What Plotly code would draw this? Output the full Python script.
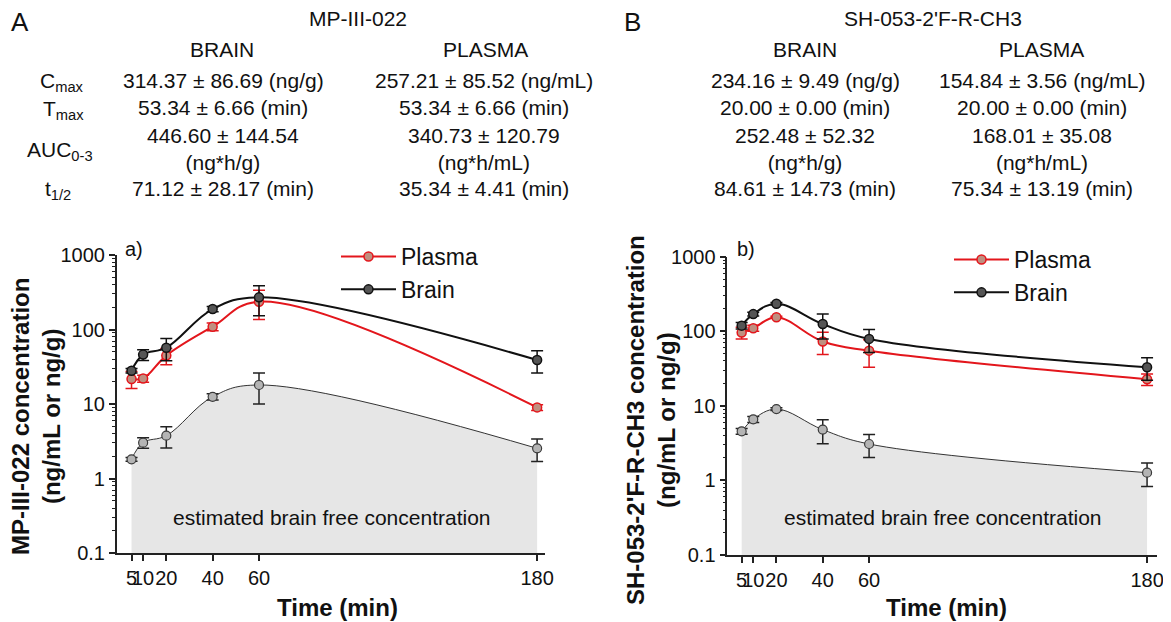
import plotly.graph_objects as go
import numpy as np

# ---------------- data ----------------
time_min = [5, 10, 20, 40, 60, 180]

# MP-III-022
a_plasma = [21.7, 22.0, 44.6, 109, 236, 9.0]
a_plasma_err = [5.5, 2.4, 11, 13, 100, 0.8]
a_brain = [28, 46, 57, 188, 270, 39]
a_brain_err = [2, 7.5, 19, 15, 117, 13]
a_free = [1.81, 3.03, 3.76, 12.5, 18.0, 2.54]
a_free_err = [0.1, 0.48, 1.2, 1.2, 8.0, 0.85]

# SH-053-2'F-R-CH3
b_plasma = [96, 110, 154, 73, 55, 22.7]
b_plasma_err = [17, 10, 5, 24, 22, 4]
b_brain = [119, 170, 234, 125, 79, 33]
b_brain_err = [12, 10, 9, 46, 27, 11]
b_free = [4.55, 6.6, 9.05, 4.8, 3.08, 1.27]
b_free_err = [0.4, 0.6, 0.4, 1.7, 1.05, 0.44]

y_ticks = [0.1, 1, 10, 100, 1000]
y_ticktext = ["0.1", "1", "10", "100", "1000"]
x_ticks = [5, 10, 20, 40, 60, 180]
x_ticktext = ["5", "10", "20", "40", "60", "180"]

table_rows = ["C<sub>max</sub>", "T<sub>max</sub>", "AUC<sub>0-3</sub>", "t<sub>1/2</sub>"]
a_brain_tab = ["314.37 ± 86.69 (ng/g)", "53.34 ± 6.66 (min)", "446.60 ± 144.54<br>(ng*h/g)", "71.12 ± 28.17 (min)"]
a_plasma_tab = ["257.21 ± 85.52 (ng/mL)", "53.34 ± 6.66 (min)", "340.73 ± 120.79<br>(ng*h/mL)", "35.34 ± 4.41 (min)"]
b_brain_tab = ["234.16 ± 9.49 (ng/g)", "20.00 ± 0.00 (min)", "252.48 ± 52.32<br>(ng*h/g)", "84.61 ± 14.73 (min)"]
b_plasma_tab = ["154.84 ± 3.56 (ng/mL)", "20.00 ± 0.00 (min)", "168.01 ± 35.08<br>(ng*h/mL)", "75.34 ± 13.19 (min)"]

# ---------------- layout helpers ----------------
VIEW_W, VIEW_H = 1171, 622
OFF = 8  # default page body margin
W, H = VIEW_W - OFF, VIEW_H - OFF
FONT = "Liberation Sans, Arial, sans-serif"


def px(x):
    return (x - OFF) / W


def py(y):
    return 1 - (y - OFF) / H


RED = "#e3161c"
fig = go.Figure()


def add_panel(xa, ya, plasma, perr, brain, berr, free, ferr, legend):
    xref = "x" if xa == 1 else "x%d" % xa
    yref = "y" if ya == 1 else "y%d" % ya
    floor = y_ticks[0]
    fig.add_trace(go.Scatter(x=[time_min[0], time_min[-1]], y=[floor, floor], mode="lines",
                             line=dict(width=0, color="rgba(0,0,0,0)"), showlegend=False,
                             hoverinfo="skip", xaxis=xref, yaxis=yref))
    fig.add_trace(go.Scatter(x=time_min, y=free, mode="lines+markers", fill="tonexty",
                             fillcolor="#e6e6e6",
                             line=dict(color="#333333", width=1, shape="spline", smoothing=1.1),
                             marker=dict(size=9, color="#b4b4b4", line=dict(color="#3a3a3a", width=1.2)),
                             error_y=dict(type="data", array=ferr, color="#222222", thickness=1.5, width=6),
                             showlegend=False, xaxis=xref, yaxis=yref))
    fig.add_trace(go.Scatter(x=time_min, y=plasma, mode="lines+markers", name="Plasma",
                             line=dict(color=RED, width=2, shape="spline", smoothing=1.1),
                             marker=dict(size=9, color="#bf8f80", line=dict(color=RED, width=1.5)),
                             error_y=dict(type="data", array=perr, color=RED, thickness=1.5, width=6),
                             legend=legend, xaxis=xref, yaxis=yref))
    fig.add_trace(go.Scatter(x=time_min, y=brain, mode="lines+markers", name="Brain",
                             line=dict(color="#111111", width=2, shape="spline", smoothing=1.1),
                             marker=dict(size=9, color="#555555", line=dict(color="#111111", width=1.5)),
                             error_y=dict(type="data", array=berr, color="#111111", thickness=1.5, width=6),
                             legend=legend, xaxis=xref, yaxis=yref))


add_panel(1, 1, a_plasma, a_plasma_err, a_brain, a_brain_err, a_free, a_free_err, "legend")
add_panel(2, 2, b_plasma, b_plasma_err, b_brain, b_brain_err, b_free, b_free_err, "legend2")

minor_vals = [m * 10.0 ** k for k in range(-1, 3) for m in range(2, 10)]

axis_common = dict(showgrid=False, zeroline=False, showline=True, linecolor="#222222", linewidth=1.5,
                   ticks="outside", tickcolor="#222222", tickwidth=1.5, ticklen=6, automargin=False,
                   tickangle=0, tickfont=dict(family=FONT, size=20, color="#111111"))

yaxis_common = dict(axis_common, type="log", range=[-1, 3], tickmode="array", tickvals=y_ticks,
                    ticktext=y_ticktext,
                    minor=dict(tickmode="array", tickvals=minor_vals, ticks="outside", ticklen=3,
                               tickcolor="#222222", tickwidth=1, showgrid=False))
xaxis_common = dict(axis_common, tickmode="array", tickvals=x_ticks, ticktext=x_ticktext)

fig.update_layout(
    width=W, height=H, margin=dict(l=0, r=0, t=0, b=0, autoexpand=False),
    paper_bgcolor="white", plot_bgcolor="white",
    font=dict(family=FONT, color="#111111"),
    xaxis=dict(xaxis_common, domain=[px(116.7), px(545)], range=[-1.4, 183.4], anchor="y"),
    yaxis=dict(yaxis_common, domain=[py(553), py(255)], anchor="x"),
    xaxis2=dict(xaxis_common, domain=[px(727.3), px(1156.8)], range=[-1.2, 184.2], anchor="y2"),
    yaxis2=dict(yaxis_common, domain=[py(555), py(256.7)], anchor="x2"),
    legend=dict(x=px(336), y=py(235), xanchor="left", yanchor="top", bgcolor="rgba(0,0,0,0)",
                font=dict(family=FONT, size=23), itemwidth=55, tracegroupgap=0, traceorder="normal"),
    legend2=dict(x=px(949), y=py(238), xanchor="left", yanchor="top", bgcolor="rgba(0,0,0,0)",
                 font=dict(family=FONT, size=23), itemwidth=55, tracegroupgap=0, traceorder="normal"),
    showlegend=True,
)

ann = []


def text(x, y, s, size=21, bold=False, angle=0, xanchor="center"):
    if bold:
        s = "<b>" + s.replace("<br>", "</b><br><b>") + "</b>"
    ann.append(dict(x=px(x), y=py(y), xref="paper", yref="paper", text=s, showarrow=False,
                    xanchor=xanchor, yanchor="middle", textangle=angle,
                    font=dict(family=FONT, size=size, color="#111111")))


# panel letters and titles
text(20, 22, "A", size=26)
text(632, 22, "B", size=26)
text(358, 18, "MP-III-022")
text(933, 18, "SH-053-2'F-R-CH3")
text(222, 49, "BRAIN")
text(485, 49, "PLASMA")
text(805, 49, "BRAIN")
text(1041, 49, "PLASMA")

row_y = [80, 108, 149, 188]
label_x = [62, 63, 60, 58]
for i, lab in enumerate(table_rows):
    text(label_x[i], row_y[i] + 2, lab)
    text(223, row_y[i], a_brain_tab[i])
    text(484, row_y[i], a_plasma_tab[i])
    text(805, row_y[i], b_brain_tab[i])
    text(1042, row_y[i], b_plasma_tab[i])

# panel annotations
text(134, 249, "a)", size=20)
text(746, 249, "b)", size=20)
text(332, 517, "estimated brain free concentration", size=21)
text(943, 517, "estimated brain free concentration", size=21)

# axis titles
text(36, 417, "MP-III-022 concentration<br>(ng/mL or ng/g)", size=24, bold=True, angle=-90)
text(651, 420, "SH-053-2'F-R-CH3 concentration<br>(ng/mL or ng/g)", size=24, bold=True, angle=-90)
text(337, 607, "Time (min)", size=24, bold=True)
text(947, 607, "Time (min)", size=24, bold=True)

fig.update_layout(annotations=ann)
fig.write_html("out.html")
